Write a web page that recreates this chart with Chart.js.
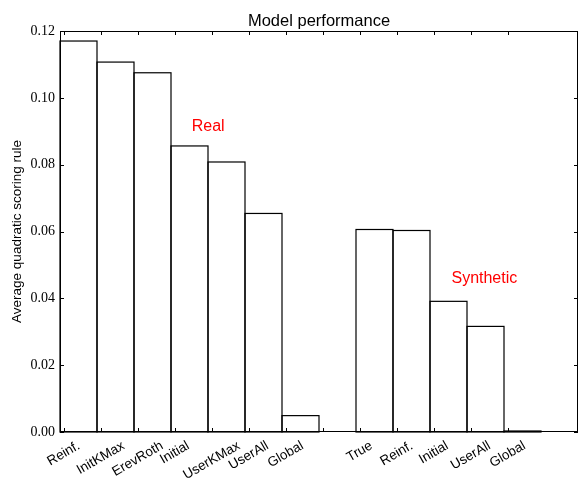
<!DOCTYPE html>
<html><head><meta charset="utf-8">
<script src="https://cdn.jsdelivr.net/npm/chart.js@4.4.1/dist/chart.umd.min.js"></script>
<style>html,body{margin:0;padding:0;background:#fff;}canvas{display:block;}</style>
</head><body>
<canvas id="c" width="579" height="479"></canvas>
<script>
const categories = ['Reinf.','InitKMax','ErevRoth','Initial','UserKMax','UserAll','Global','','True','Reinf.','Initial','UserAll','Global',''];
const realValues = [0.1170,0.1107,0.1075,0.0856,0.0808,0.0654,0.0049];
const syntheticValues = [0.0606,0.0603,0.0391,0.0316,0.0003];
const yTicks = [0,0.02,0.04,0.06,0.08,0.10,0.12];
const tickCount = 13;
const groupLabels = [{text:'Real', x:3.56, y:0.090},{text:'Synthetic', x:10.58, y:0.0447}];
const titleText = 'Model performance';
const yTitle = 'Average quadratic scoring rule';
const values = realValues.concat([null], syntheticValues, [null]);

const SANS = '"Liberation Sans", Arial, sans-serif';
const SERIF = '"Liberation Serif", "Times New Roman", serif';

const decor = {
  id: 'decor',
  afterDatasetsDraw(chart) {
    const ctx = chart.ctx, a = chart.chartArea, xs = chart.scales.x, ys = chart.scales.y;
    const slot = (a.right - a.left) / categories.length;
    ctx.save();
    // bar outlines (centered strokes, shared edges overlap)
    ctx.strokeStyle = '#000'; ctx.lineWidth = 1.2;
    chart.getDatasetMeta(0).data.forEach((el, i) => {
      if (values[i] == null) return;
      const p = el.getProps(['x','y','base','width'], true);
      ctx.strokeRect(p.x - p.width/2, p.y, p.width, p.base - p.y);
    });
    // frame
    ctx.lineWidth = 1;
    ctx.strokeRect(a.left + 0.5, a.top + 0.5, a.right - a.left - 1, a.bottom - a.top - 1);
    // x ticks (inward, top & bottom)
    const tl = 4;
    ctx.beginPath();
    for (let i = 0; i < tickCount; i++) {
      const tx = Math.round(xs.getPixelForValue(i) - 0.4*slot) + 0.5;
      ctx.moveTo(tx, a.bottom); ctx.lineTo(tx, a.bottom - tl);
      ctx.moveTo(tx, a.top); ctx.lineTo(tx, a.top + tl);
    }
    // y ticks (inward, left & right)
    yTicks.forEach(v => {
      const ty = Math.round(ys.getPixelForValue(v)) + 0.5;
      ctx.moveTo(a.left, ty); ctx.lineTo(a.left + tl, ty);
      ctx.moveTo(a.right, ty); ctx.lineTo(a.right - tl, ty);
    });
    ctx.stroke();
    // x tick labels rotated 30deg, bbox top-center at tick
    const fs = 13.5;
    ctx.font = fs + 'px ' + SANS; ctx.fillStyle = '#000';
    const rot = 30*Math.PI/180;
    for (let i = 0; i < tickCount; i++) {
      const lbl = categories[i]; if (!lbl) continue;
      const tx = xs.getPixelForValue(i) - 0.4*slot;
      const W = ctx.measureText(lbl).width;
      const bh = W*Math.sin(rot) + fs*Math.cos(rot);
      const cy = a.bottom + 7 + bh/2;
      ctx.save(); ctx.translate(tx, cy); ctx.rotate(-rot);
      ctx.textAlign = 'center'; ctx.textBaseline = 'middle';
      ctx.fillText(lbl, 0, 0); ctx.restore();
    }
    // title
    ctx.font = '16.5px ' + SANS; ctx.textAlign = 'center'; ctx.textBaseline = 'alphabetic';
    ctx.fillText(titleText, (a.left + a.right)/2, 26);
    // y title
    ctx.save(); ctx.translate(17, (a.top + a.bottom)/2); ctx.rotate(-Math.PI/2);
    ctx.font = '13.5px ' + SANS; ctx.textAlign = 'center'; ctx.textBaseline = 'middle';
    ctx.fillText(yTitle, 0, 0); ctx.restore();
    // group annotations
    ctx.font = '16px ' + SANS; ctx.fillStyle = '#ff0000'; ctx.textAlign = 'left'; ctx.textBaseline = 'alphabetic';
    groupLabels.forEach(g => {
      ctx.fillText(g.text, a.left + g.x*slot, ys.getPixelForValue(g.y));
    });
    ctx.restore();
  }
};

new Chart(document.getElementById('c'), {
  type: 'bar',
  data: {
    labels: categories,
    datasets: [{
      data: values,
      backgroundColor: '#ffffff',
      borderWidth: 0,
      barPercentage: 1,
      categoryPercentage: 1
    }]
  },
  options: {
    responsive: false,
    devicePixelRatio: 1,
    animation: false,
    layout: { padding: { top: 31, right: 1, left: 0, bottom: 0 } },
    plugins: { legend: { display: false }, title: { display: false }, tooltip: { enabled: false } },
    scales: {
      x: {
        type: 'category',
        offset: true,
        grid: { display: false, drawTicks: false },
        border: { display: false },
        ticks: { display: false },
        afterFit: s => { s.height = 47; }
      },
      y: {
        min: 0, max: 0.12,
        grid: { display: false, drawTicks: false },
        border: { display: false },
        afterBuildTicks: s => { s.ticks = yTicks.map(v => ({ value: v })); },
        ticks: {
          color: '#000', padding: 5,
          font: { family: SERIF, size: 14 },
          callback: v => Number(v).toFixed(2)
        },
        afterFit: s => { s.width = 60; }
      }
    }
  },
  plugins: [decor]
});
</script>
</body></html>
